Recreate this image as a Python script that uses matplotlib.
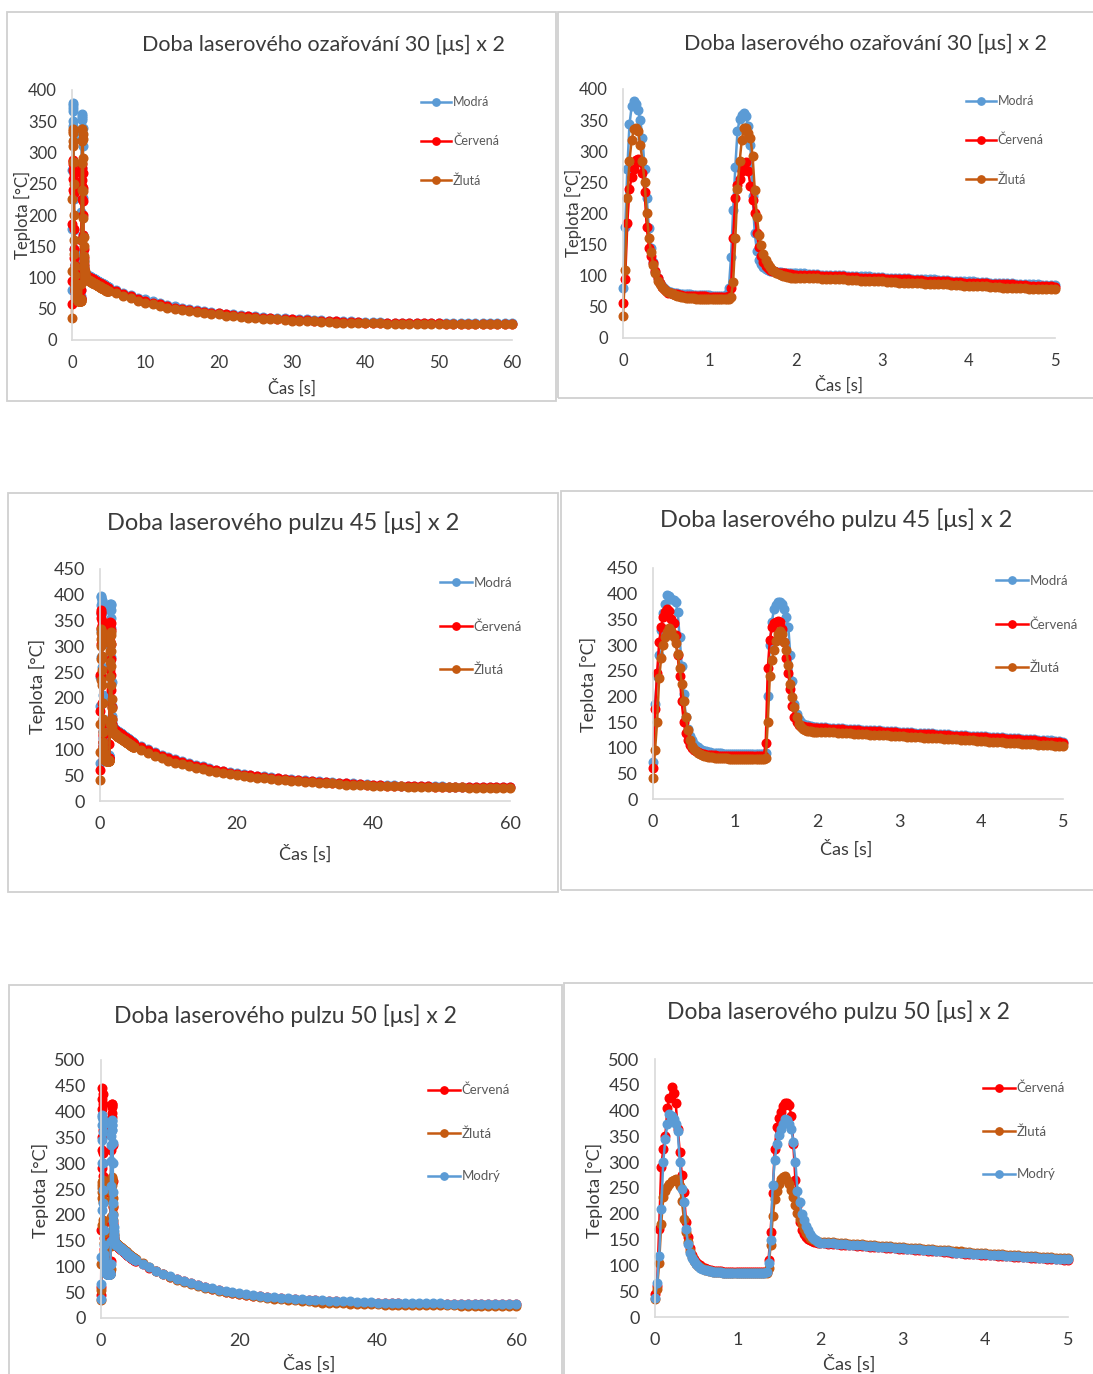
import numpy as np
from matplotlib import pyplot as plt
from matplotlib.patches import Rectangle

plt.rcParams['font.family'] = ['Lato', 'DejaVu Sans']

W, H = 1093, 1374

# cas [s]: 0-2 s po 0.025 s, 2-5 s po 0.05 s, 6-60 s po 1 s
cas = np.concatenate([np.arange(80) * 0.025, 2.0 + np.arange(61) * 0.05, np.arange(6, 61)])

# ---- 30 us x 2 ----
modra_30 = [
    80, 178, 272, 343, 372, 380, 376, 366, 350, 322, 272, 225, 176, 145, 122, 106, 96, 89, 84, 80, 77,
    75, 74, 73, 72, 72, 71, 71, 70, 70, 70, 70, 69, 69, 69, 69, 69, 69, 69, 69, 69, 68, 68, 68, 68, 68, 68, 68,
    70, 80, 130, 205, 275, 332, 352, 358, 362, 356, 340, 310, 228, 168, 140, 126, 119, 114, 111, 109, 108, 107,
    107, 106, 106, 106, 105, 105, 105, 105, 104, 104,
    104, 104, 104, 103, 103, 103, 102, 102, 102, 101, 101, 101, 100, 100, 100, 99, 99, 99, 98, 98, 98,
    97, 97, 97, 96, 96, 96, 95, 95, 95, 94, 94, 94, 93, 93, 93, 92, 92, 92, 91, 91, 91, 90, 90, 90,
    89, 89, 89, 88, 88, 88, 87, 87, 87, 86, 86, 86, 85, 85, 85, 85,
    80, 76, 72, 68, 65, 62, 59, 56, 54, 52, 50, 48, 47, 45, 44, 42, 41, 40, 39, 38, 37, 36, 35, 35, 34, 33, 33,
    32, 32, 31, 31, 30, 30, 29, 29, 29, 29, 28, 28, 28, 28, 28, 28, 27, 27, 27, 27, 27, 27, 27, 27, 27, 27, 27, 27]
cervena_30 = [
    57, 95, 185, 240, 258, 272, 286, 288, 282, 265, 235, 178, 145, 132, 120, 108, 96, 88, 82, 78, 75,
    73, 72, 71, 70, 70, 69, 69, 68, 68, 68, 68, 67, 67, 67, 67, 67, 67, 67, 66, 66, 66, 66, 66, 66, 66, 66, 66,
    66, 68, 80, 160, 225, 246, 256, 268, 276, 282, 268, 244, 222, 200, 168, 146, 131, 122, 116, 112, 110, 108,
    107, 106, 105, 105, 104, 104, 103, 103, 103, 102,
    102, 102, 102, 101, 101, 101, 100, 100, 100, 99, 99, 99, 98, 98, 98, 97, 97, 97, 96, 96, 96,
    95, 95, 95, 94, 94, 94, 93, 93, 93, 92, 92, 92, 91, 91, 91, 90, 90, 90, 89, 89, 89, 88, 88, 88,
    87, 87, 87, 86, 86, 86, 85, 85, 85, 84, 84, 84, 83, 83, 83, 82,
    78, 74, 70, 66, 63, 60, 57, 55, 52, 50, 48, 47, 45, 44, 43, 41, 40, 39, 38, 37, 36, 35, 34, 34, 33, 32, 32,
    31, 31, 30, 30, 29, 29, 29, 28, 28, 28, 28, 27, 27, 27, 27, 27, 27, 27, 26, 26, 26, 26, 26, 26, 26, 26, 26, 26]
zluta_30 = [
    36, 110, 225, 285, 318, 335, 338, 332, 310, 285, 250, 200, 160, 138, 118, 104, 92, 86, 82, 79, 76,
    74, 72, 70, 69, 68, 67, 66, 66, 65, 65, 64, 64, 64, 63, 63, 63, 63, 62, 62, 62, 62, 62, 62, 62, 62, 62, 62,
    62, 62, 66, 90, 160, 240, 284, 318, 338, 338, 330, 322, 292, 238, 195, 165, 150, 135, 126, 119, 114, 110,
    107, 105, 103, 101, 100, 99, 98, 98, 97, 97,
    97, 97, 97, 96, 96, 96, 95, 95, 95, 94, 94, 94, 93, 93, 93, 92, 92, 92, 91, 91, 91,
    90, 90, 90, 89, 89, 89, 88, 88, 88, 87, 87, 87, 86, 86, 86, 85, 85, 85, 84, 84, 84, 83, 83, 83,
    82, 82, 82, 81, 81, 81, 80, 80, 80, 79, 79, 79, 78, 78, 78, 78,
    75, 71, 67, 63, 60, 57, 55, 52, 50, 48, 46, 45, 43, 42, 41, 39, 38, 37, 36, 35, 34, 33, 33, 32, 31, 31, 30,
    30, 29, 29, 28, 28, 28, 27, 27, 27, 27, 26, 26, 26, 26, 26, 26, 25, 25, 25, 25, 25, 25, 25, 25, 25, 25, 25, 25]

# ---- 45 us x 2 ----
modra_45 = [
    73, 185, 240, 280, 330, 362, 380, 398, 396, 390, 387, 384, 365, 315, 260, 205, 160, 136, 122, 114, 108,
    104, 101, 98, 96, 94, 93, 92, 91, 90, 90, 89, 89, 89, 88, 88, 88, 88, 88, 87, 87, 87, 87, 87, 87, 87, 87, 87,
    87, 87, 87, 87, 87, 87, 87, 90, 200, 300, 345, 370, 378, 383, 383, 380, 370, 355, 335, 280, 230, 185,
    165, 155, 150, 147, 145, 144, 143, 142, 141, 141,
    140, 140, 140, 139, 139, 138, 138, 137, 137, 136, 136, 135, 135, 134, 134, 134,
    133, 133, 132, 132, 131, 131, 130, 130, 129, 129, 128, 128, 128,
    127, 127, 126, 126, 125, 125, 124, 124, 123, 123, 122, 122, 122,
    121, 121, 120, 120, 119, 119, 118, 118, 117, 117, 116, 116, 115, 115, 114, 114, 113, 113, 112,
    106, 100, 95, 90, 85, 81, 77, 73, 70, 67, 64, 61, 59, 57, 55, 53, 51, 49, 48, 46, 45, 43, 42, 41, 40, 39,
    38, 37, 36, 35, 35, 34, 33, 33, 32, 32, 31, 31, 30, 30, 30, 29, 29, 29, 29, 28, 28, 28, 28, 28, 28, 27, 27, 27, 27]
cervena_45 = [
    60, 175, 245, 305, 335, 355, 365, 370, 367, 350, 342, 320, 280, 240, 190, 150, 128, 115, 106, 100, 96,
    93, 91, 89, 88, 87, 86, 86, 85, 85, 85, 84, 84, 84, 84, 84, 84, 83, 83, 83, 83, 83, 83, 83, 83, 83, 83, 83,
    83, 83, 83, 83, 83, 83, 83, 110, 255, 310, 335, 342, 345, 347, 345, 332, 305, 275, 245, 215, 182, 160,
    150, 145, 143, 142, 141, 140, 140, 139, 139, 138,
    138, 138, 138, 137, 137, 136, 136, 135, 135, 134, 134, 133, 133, 132, 132, 132,
    131, 131, 130, 130, 129, 129, 128, 128, 127, 127, 126, 126, 126,
    125, 125, 124, 124, 123, 123, 122, 122, 121, 121, 120, 120, 120,
    119, 119, 118, 118, 117, 117, 116, 116, 115, 115, 114, 114, 113, 113, 112, 112, 111, 111, 110,
    104, 98, 93, 88, 83, 79, 75, 71, 68, 65, 62, 60, 58, 55, 53, 51, 50, 48, 46, 45, 44, 42, 41, 40, 39, 38,
    37, 36, 35, 35, 34, 33, 33, 32, 31, 31, 30, 30, 30, 29, 29, 29, 29, 28, 28, 28, 28, 28, 27, 27, 27, 27, 27, 27, 27]
zluta_45 = [
    41, 95, 150, 235, 275, 300, 315, 325, 334, 328, 315, 304, 282, 255, 225, 190, 160, 134, 115, 104, 97,
    93, 90, 87, 85, 84, 83, 82, 81, 81, 80, 80, 80, 79, 79, 79, 79, 78, 78, 78, 78, 78, 78, 78, 77, 77, 77, 77,
    77, 77, 77, 77, 77, 77, 77, 80, 150, 240, 270, 290, 308, 322, 327, 322, 305, 290, 262, 225, 198, 180,
    160, 146, 140, 136, 134, 133, 132, 132, 131, 131,
    131, 131, 131, 130, 130, 129, 129, 128, 128, 127, 127, 126, 126, 125, 125, 125,
    124, 124, 123, 123, 122, 122, 121, 121, 120, 120, 119, 119, 119,
    118, 118, 117, 117, 116, 116, 115, 115, 114, 114, 113, 113, 113,
    112, 112, 111, 111, 110, 110, 109, 109, 108, 108, 107, 107, 106, 106, 105, 105, 104, 104, 104,
    98, 93, 88, 83, 78, 74, 71, 67, 64, 62, 59, 57, 55, 52, 50, 49, 47, 45, 44, 43, 41, 40, 39, 38, 37, 36,
    35, 34, 34, 33, 32, 32, 31, 31, 30, 30, 29, 29, 29, 28, 28, 28, 28, 27, 27, 27, 27, 27, 26, 26, 26, 26, 26, 26, 26]

# ---- 50 us x 2 ----
cervena_50 = [
    45, 60, 170, 290, 325, 350, 405, 425, 445, 435, 415, 365, 320, 275, 242, 185, 155, 133, 120, 112, 107,
    103, 100, 97, 95, 93, 92, 91, 90, 90, 89, 89, 89, 88, 88, 88, 88, 88, 88, 87, 87, 87, 87, 87, 87, 87, 87, 87,
    87, 87, 87, 87, 87, 87, 88, 110, 165, 240, 325, 368, 385, 398, 408, 414, 415, 410, 390, 335, 265, 215,
    185, 168, 160, 155, 151, 149, 147, 146, 145, 144,
    143, 143, 142, 142, 141, 140, 140, 139, 139, 138, 138, 137, 136, 136, 135, 135, 134, 134, 133, 132,
    132, 131, 131, 130, 130, 129, 128, 128, 127, 127, 126, 126, 125, 124, 124, 123, 123, 122, 122, 121,
    121, 120, 120, 119, 119, 118, 118, 117, 117, 116, 116, 115, 115, 114, 114, 113, 113, 112, 112, 111, 111,
    104, 97, 91, 85, 80, 75, 71, 67, 63, 60, 57, 54, 51, 49, 47, 45, 43, 42, 40, 39, 38, 37, 36, 35, 34, 34,
    33, 32, 32, 31, 31, 30, 30, 30, 29, 29, 29, 29, 28, 28, 28, 28, 28, 27, 27, 27, 27, 27, 27, 27, 27, 27, 27, 27, 27]
zluta_50 = [
    34, 55, 105, 180, 232, 245, 252, 258, 263, 266, 267, 262, 254, 225, 190, 165, 145, 128, 117, 109, 103,
    99, 96, 94, 92, 91, 90, 89, 88, 88, 87, 87, 87, 86, 86, 86, 86, 86, 86, 86, 85, 85, 85, 85, 85, 85, 85, 85,
    85, 85, 85, 85, 85, 85, 86, 95, 140, 195, 228, 245, 258, 267, 272, 273, 266, 258, 247, 233, 218, 202,
    190, 180, 170, 163, 158, 154, 151, 149, 147, 146,
    146, 146, 145, 145, 144, 143, 143, 142, 142, 141, 141, 140, 139, 139, 138, 138, 137, 137, 136, 135,
    135, 134, 134, 133, 133, 132, 131, 131, 130, 130, 129, 129, 128, 127, 127, 126, 126, 125, 125, 124,
    124, 123, 123, 122, 122, 121, 121, 120, 120, 119, 119, 118, 118, 117, 117, 116, 116, 115, 115, 114, 114,
    106, 98, 91, 85, 79, 74, 70, 66, 62, 59, 56, 53, 50, 48, 46, 44, 42, 40, 39, 37, 36, 35, 34, 33, 32, 31,
    30, 30, 29, 29, 28, 28, 27, 27, 27, 26, 26, 26, 26, 25, 25, 25, 25, 25, 25, 25, 24, 24, 24, 24, 24, 24, 24, 24, 24]
modry_50 = [
    37, 65, 118, 210, 300, 345, 375, 393, 390, 383, 375, 360, 300, 248, 222, 170, 142, 124, 115, 108, 102,
    98, 95, 93, 92, 91, 90, 89, 88, 88, 87, 87, 87, 86, 86, 86, 86, 86, 86, 85, 85, 85, 85, 85, 85, 85, 85, 85,
    85, 85, 85, 85, 85, 85, 88, 105, 150, 255, 305, 335, 352, 365, 375, 383, 381, 375, 365, 340, 300, 245,
    222, 200, 188, 176, 168, 161, 156, 152, 149, 146,
    144, 144, 143, 143, 142, 141, 141, 140, 140, 139, 139, 138, 137, 137, 136, 136, 135, 135, 134, 133,
    133, 132, 132, 131, 131, 130, 129, 129, 128, 128, 127, 127, 126, 125, 125, 124, 124, 123, 123, 122,
    122, 121, 121, 120, 120, 119, 119, 118, 118, 117, 117, 116, 116, 115, 115, 114, 114, 113, 113, 112, 112,
    105, 98, 92, 86, 81, 76, 72, 68, 64, 61, 58, 55, 52, 50, 48, 46, 44, 43, 41, 40, 39, 38, 37, 36, 35, 35,
    34, 33, 33, 32, 32, 31, 31, 31, 30, 30, 30, 30, 29, 29, 29, 29, 29, 29, 28, 28, 28, 28, 28, 28, 28, 28, 28, 28, 28]

MODRA = '#5b9bd5'
CERVENA = '#ff0000'
ZLUTA = '#c55a11'
TEXT = '#3a3a3a'
OSA = '#d9d9d9'


def px_box(x0, y0, x1, y1):
    """ pixel box (left, top, right, bottom) -> figure fraction rect """
    return [x0 / W, 1 - y1 / H, (x1 - x0) / W, (y1 - y0) / H]


def draw_panel(fig, frame, axes_px, title, title_xy, title_size, xmax, xticks, ymax,
               series, tick_size, label_size, ylabel_xy, xlabel_xy, legend_xy, legend_size, legend_gap):
    # chart frame
    fig.patches.append(Rectangle((frame[0] / W, 1 - frame[3] / H), (frame[2] - frame[0]) / W,
                                 (frame[3] - frame[1]) / H, transform=fig.transFigure,
                                 fill=False, ec='#d0d0d0', lw=1.3))

    ax = fig.add_axes(px_box(*axes_px))
    mask = cas <= xmax + 1e-9
    for values, color, label in series:
        ax.plot(cas[mask], np.array(values, dtype=float)[mask], '-o', color=color, lw=1.8,
                ms=6.2, label=label, clip_on=False)

    ax.set_xlim(0, xmax)
    ax.set_ylim(0, ymax)
    ax.set_xticks(xticks)
    ax.set_yticks(np.arange(0, ymax + 1, 50))
    for s in ['top', 'right']:
        ax.spines[s].set_visible(False)
    for s in ['left', 'bottom']:
        ax.spines[s].set_color(OSA)
        ax.spines[s].set_linewidth(1.2)
    ax.tick_params(length=0, labelsize=tick_size, colors=TEXT)
    ax.tick_params(axis='y', pad=11)
    ax.tick_params(axis='x', pad=11)

    fig.text(title_xy[0] / W, 1 - title_xy[1] / H, title, ha='center', va='center',
             fontsize=title_size, color=TEXT)
    fig.text(ylabel_xy[0] / W, 1 - ylabel_xy[1] / H, 'Teplota [°C]', ha='center', va='center',
             rotation=90, fontsize=label_size, color=TEXT)
    fig.text(xlabel_xy[0] / W, 1 - xlabel_xy[1] / H, 'Čas [s]', ha='center', va='center',
             fontsize=label_size, color=TEXT)

    leg = ax.legend(loc='upper left', bbox_to_anchor=(legend_xy[0] / W, 1 - legend_xy[1] / H),
                    bbox_transform=fig.transFigure, frameon=False, fontsize=legend_size,
                    numpoints=1, handlelength=2.4, handletextpad=0.15, labelspacing=legend_gap,
                    borderpad=0, borderaxespad=0, markerscale=0.85)
    for txt in leg.get_texts():
        txt.set_color('#595959')
    return ax


def main():
    fig = plt.figure(figsize=(W / 100, H / 100), dpi=100)

    s30 = [(modra_30, MODRA, 'Modrá'), (cervena_30, CERVENA, 'Červená'), (zluta_30, ZLUTA, 'Žlutá')]
    s45 = [(modra_45, MODRA, 'Modrá'), (cervena_45, CERVENA, 'Červená'), (zluta_45, ZLUTA, 'Žlutá')]
    s50 = [(cervena_50, CERVENA, 'Červená'), (zluta_50, ZLUTA, 'Žlutá'), (modry_50, MODRA, 'Modrý')]

    t30 = 'Doba laserového ozařování 30 [μs] x 2'
    t45 = 'Doba laserového pulzu 45 [μs] x 2'
    t50 = 'Doba laserového pulzu 50 [μs] x 2'

    draw_panel(fig, (7, 12, 556, 401), (72, 90, 512, 340), t30, (323, 45), 15.5,
               60, np.arange(0, 61, 10), 400, s30, 12, 12, (22, 215), (292, 388), (421, 96), 9, 2.15)
    draw_panel(fig, (558, 12, 1100, 398), (623, 89, 1055, 338), t30, (865, 44), 15.5,
               5, np.arange(0, 6), 400, s30, 12, 12, (573, 213), (839, 385), (966, 95), 9, 2.15)
    draw_panel(fig, (8, 493, 558, 892), (100, 569, 510, 801), t45, (283, 523), 17,
               60, np.arange(0, 61, 20), 450, s45, 13, 13, (37, 686), (305, 854), (440, 577), 9.5, 2.35)
    draw_panel(fig, (561, 491, 1100, 890), (653, 568, 1063, 799), t45, (836, 520), 17,
               5, np.arange(0, 6), 450, s45, 13, 13, (588, 684), (846, 849), (996, 575), 9.5, 2.35)
    draw_panel(fig, (9, 985, 562, 1380), (101, 1060, 516, 1318), t50, (285, 1016), 16.5,
               60, np.arange(0, 61, 20), 500, s50, 13, 13, (40, 1190), (309, 1364), (428, 1084), 9.5, 2.33)
    draw_panel(fig, (564, 983, 1100, 1380), (655, 1059, 1068, 1317), t50, (838, 1012), 16.5,
               5, np.arange(0, 6), 500, s50, 13, 13, (594, 1190), (849, 1364), (983, 1082), 9.5, 2.33)

    fig.savefig('out.png', dpi=100)


if __name__ == '__main__':
    main()
